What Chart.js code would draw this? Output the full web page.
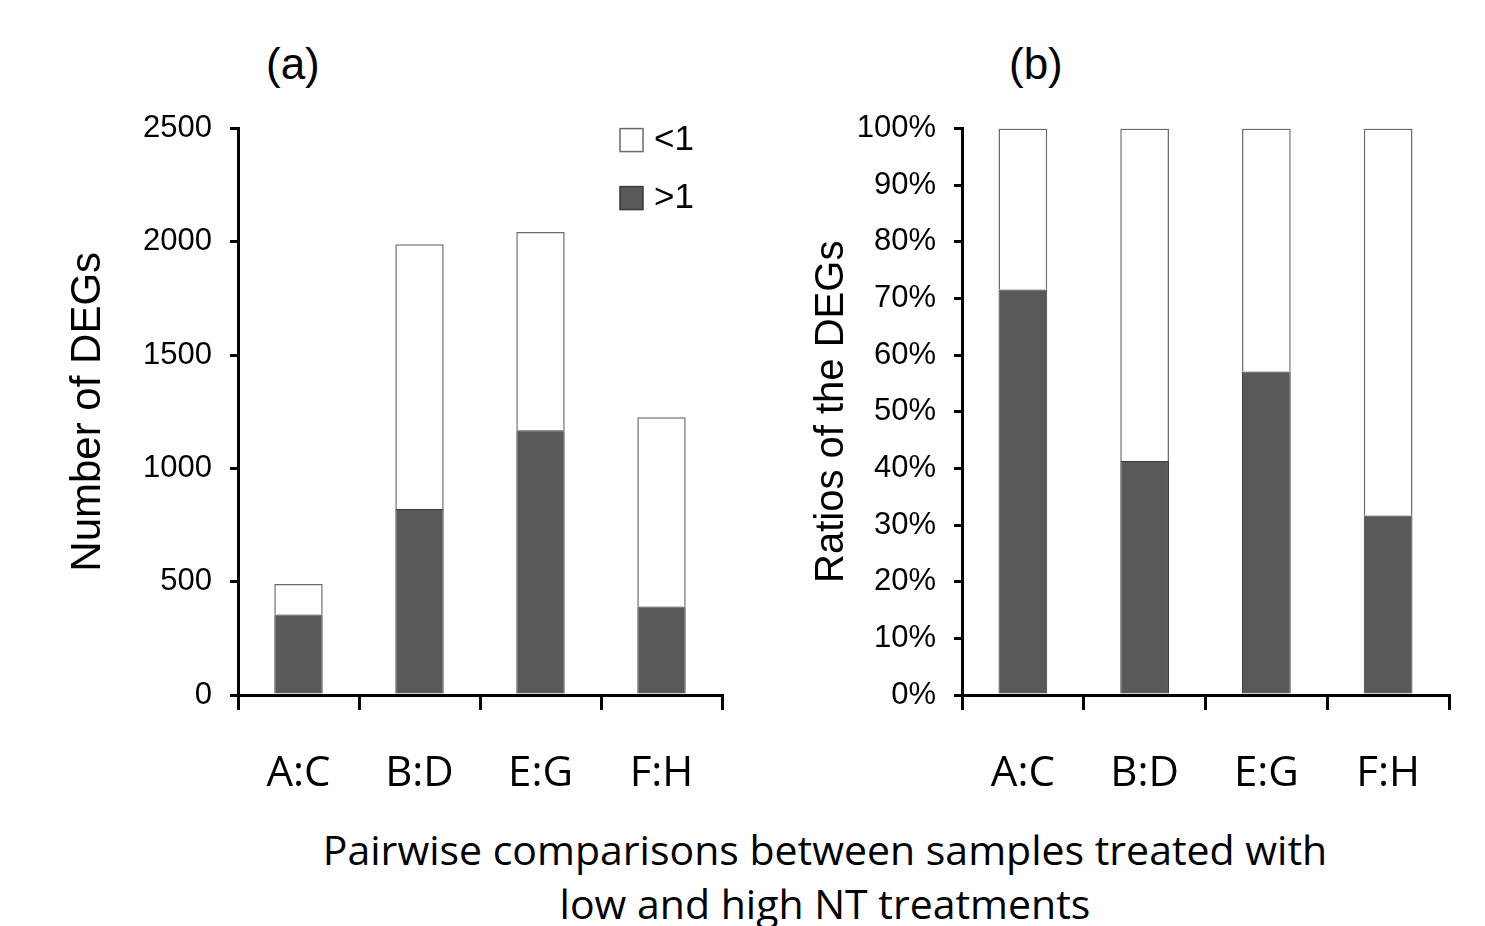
<!DOCTYPE html>
<html>
<head>
<meta charset="utf-8">
<script src="https://cdn.jsdelivr.net/npm/chart.js@4.4.1/dist/chart.umd.min.js"></script>
<style>
  html, body { margin: 0; padding: 0; background: #fff; }
  body { width: 1485px; height: 926px; position: relative; overflow: hidden; }
  canvas { position: absolute; }
  .panel { position: absolute; font-family: 'Liberation Sans', Arial, sans-serif; font-size: 44px; color: #000; }
  #xtitle { position: absolute; left: 275px; width: 1100px; top: 822px; text-align: center;
            font-family: 'Open Sans', sans-serif; font-size: 41px; line-height: 54px; color: #000; }
</style>
</head>
<body>
<div class="panel" style="left:266px; top:39px;">(a)</div>
<div class="panel" style="left:1009px; top:39px;">(b)</div>
<canvas id="countChart" width="740" height="728" style="left:0; top:92px;"></canvas>
<canvas id="ratioChart" width="740" height="728" style="left:745px; top:92px;"></canvas>
<div id="xtitle">Pairwise comparisons between samples treated with<br>low and high NT treatments</div>
<script>
// ── DATA ─────────────────────────────────────────────
const pairs = ['A:C', 'B:D', 'E:G', 'F:H'];
const seriesNames = ['>1', '<1'];
// number of DEGs (panel a)
const countUp = [355, 821, 1169, 391];
const countDown = [135, 1169, 875, 835];
const countTicks = [0, 500, 1000, 1500, 2000, 2500];
// ratios in % (panel b)
const ratioUp = [71.6, 41.3, 57.1, 31.7];
const ratioDown = [28.4, 58.7, 42.9, 68.3];
const ratioTicks = [0, 10, 20, 30, 40, 50, 60, 70, 80, 90, 100];

const dark = '#595959';
const tickFont = { family: "'Liberation Sans', Arial, sans-serif", size: 31 };
const catFont = { family: "'Open Sans', sans-serif", size: 42 };

// legend drawn inside the plot area, top right
const boxLegend = {
  id: 'boxLegend',
  afterDraw(chart, args, opts) {
    if (!opts.show) return;
    const c = chart.ctx;
    const a = chart.chartArea;
    const items = chart.data.datasets.slice().reverse();
    c.save();
    c.font = "35px 'Liberation Sans', Arial, sans-serif";
    c.textBaseline = 'middle';
    items.forEach((ds, i) => {
      const x = a.right - 102, y = a.top + i * 58;
      c.fillStyle = ds.backgroundColor;
      c.fillRect(x, y, 23, 23);
      c.strokeStyle = ds.borderColor;
      c.lineWidth = 1.5;
      c.strokeRect(x, y, 23, 23);
      c.fillStyle = '#000';
      c.fillText(ds.label, x + 34, y + 12);
    });
    c.restore();
  }
};

function makeChart(id, up, down, tickVals, opts) {
  return new Chart(document.getElementById(id), {
    type: 'bar',
    data: {
      labels: pairs,
      datasets: [
        { label: seriesNames[0], data: up, backgroundColor: dark, borderColor: '#3a3a3a', borderWidth: 1 },
        { label: seriesNames[1], data: down, backgroundColor: '#ffffff', borderColor: '#6a6a6a', borderWidth: 1.5 }
      ]
    },
    options: {
      responsive: false,
      animation: false,
      barPercentage: 0.4,
      categoryPercentage: 1,
      layout: { padding: { top: 21, right: opts.padRight, left: 0, bottom: 0 } },
      plugins: {
        legend: { display: false },
        tooltip: { enabled: false },
        boxLegend: { show: opts.legend }
      },
      scales: {
        x: {
          stacked: true,
          afterFit: s => { s.height = 125; },
          grid: { offset: true, drawOnChartArea: false, drawTicks: true, tickLength: 15, color: '#000', lineWidth: 3 },
          border: { display: true, color: '#000', width: 3 },
          ticks: { color: '#000', font: catFont, padding: 39, maxRotation: 0 }
        },
        y: {
          stacked: true,
          min: 0,
          max: tickVals[tickVals.length - 1],
          afterFit: s => { s.width = opts.axisWidth; },
          afterBuildTicks: s => { s.ticks = tickVals.map(v => ({ value: v })); },
          grid: { drawOnChartArea: false, drawTicks: true, tickLength: 8, color: '#000', lineWidth: 3 },
          border: { display: true, color: '#000', width: 3 },
          ticks: { color: '#000', font: tickFont, padding: 18, callback: opts.fmt },
          title: {
            display: true,
            text: opts.title,
            color: '#000',
            font: { family: "'Liberation Sans', Arial, sans-serif", size: opts.titleSize },
            padding: { top: opts.titlePad, bottom: 0 }
          }
        }
      }
    },
    plugins: [boxLegend]
  });
}

makeChart('countChart', countUp, countDown, countTicks, {
  padRight: 18, axisWidth: 238, title: 'Number of DEGs', titleSize: 42, titlePad: 63,
  legend: true, fmt: v => v
});
makeChart('ratioChart', ratioUp, ratioDown, ratioTicks, {
  padRight: 36, axisWidth: 217, title: 'Ratios of the DEGs', titleSize: 40, titlePad: 63,
  legend: false, fmt: v => v + '%'
});
</script>
</body>
</html>
